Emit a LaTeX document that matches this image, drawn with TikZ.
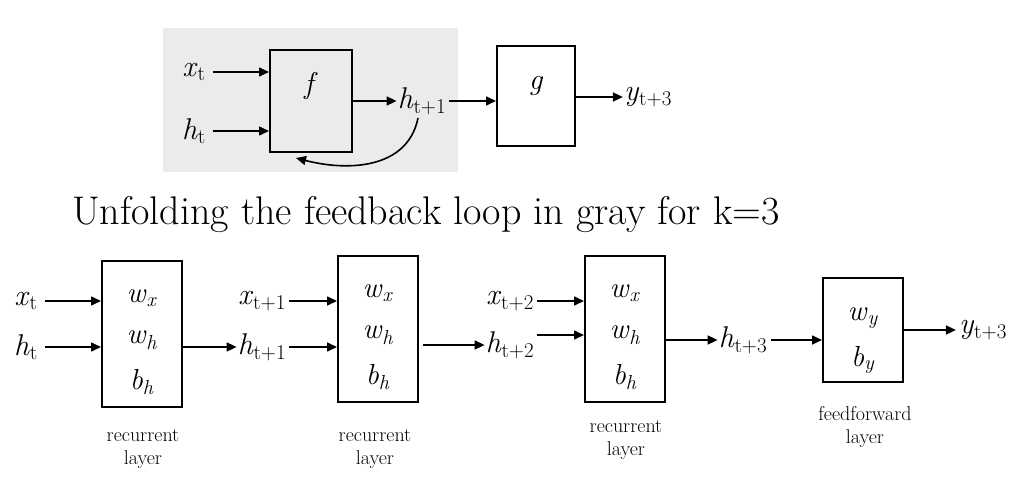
\documentclass[tikz,border=0pt]{standalone}
\usepackage{fontspec}
\usetikzlibrary{arrows.meta}
\definecolor{loopgray}{RGB}{235,235,235}
\newcommand{\vsub}[2]{\textit{#1}\textsubscript{#2}}
\tikzset{
  blk/.style={draw, line width=2pt, inner sep=0pt},
  lbl/.style={font=\fontsize{30}{34}\selectfont, inner sep=1pt},
  wlbl/.style={font=\fontsize{29}{33}\selectfont, inner sep=1pt},
  layercap/.style={font=\fontsize{20}{23}\selectfont, align=center},
  sig/.style={-{Triangle[length=10pt,width=9pt]}, line width=1.6pt},
}
\begin{document}
\begin{tikzpicture}[x=1pt,y=-1pt]
\useasboundingbox (0,0) rectangle (1024,484);

% feedback part, gray background
\fill [loopgray] (163,28) rectangle (458,172);

\node [blk, minimum width=82pt, minimum height=102pt] (f) at (311,101) {};
\node [lbl] (fl) at (311,86) {\textit{f}};
\node [blk, minimum width=78pt, minimum height=100pt] (g) at (536,96) {};
\node [lbl] (gl) at (536,86) {\textit{g}};

\node [lbl] (xt0) at (194,72) {\vsub{x}{t}};
\node [lbl] (ht0) at (194,131) {\vsub{h}{t}};
\node [lbl] (htop) at (422,101) {\vsub{h}{t+1}};
\node [lbl] (ytop) at (648,97) {\vsub{y}{t+3}};
\coordinate (fb) at (296,158);

\draw [sig, shorten <=6pt] (xt0) -- (xt0 -| f.west);
\draw [sig, shorten <=6pt] (ht0) -- (ht0 -| f.west);
\draw [sig] (f.east |- htop) -- (htop);
\draw [sig, shorten <=2pt] (htop) -- (htop -| g.west);
\draw [sig] (g.east |- ytop) -- (ytop);
\draw [sig] ([xshift=-4pt,yshift=-2pt]htop.south) .. controls (408,168) and (350,172) .. (fb);

% title
\node [font=\fontsize{40}{44}\selectfont] (title) at (426,215) {Unfolding the feedback loop in gray for k=3};

% unfolded network
\node [blk, minimum width=80pt, minimum height=146pt] (r1) at (142,334) {};
\node [blk, minimum width=80pt, minimum height=146pt] (r2) at (378,329) {};
\node [blk, minimum width=80pt, minimum height=146pt] (r3) at (625,329) {};
\node [blk, minimum width=80pt, minimum height=104pt] (ff) at (863,330) {};

\foreach \n in {r1,r2,r3} {
  \node [wlbl] (\n-wx) at ([yshift=36pt]\n.center) {\vsub{w}{\textit{x}}};
  \node [wlbl] (\n-wh) at ([yshift=-6pt]\n.center) {\vsub{w}{\textit{h}}};
  \node [wlbl] (\n-bh) at ([yshift=-48pt]\n.center) {\vsub{b}{\textit{h}}};
}
\node [wlbl] (ff-wy) at (863,318) {\vsub{w}{\textit{y}}};
\node [wlbl] (ff-by) at (863,360) {\vsub{b}{\textit{y}}};

\node [lbl] (x1) at (26,301) {\vsub{x}{t}};
\node [lbl] (h1) at (26,347) {\vsub{h}{t}};
\node [lbl] (x2) at (262,301) {\vsub{x}{t+1}};
\node [lbl] (h2) at (262,347) {\vsub{h}{t+1}};
\node [lbl] (x3) at (510,301) {\vsub{x}{t+2}};
\node [lbl] (h3) at (510,345) {\vsub{h}{t+2}};
\node [lbl] (h4) at (743,340) {\vsub{h}{t+3}};
\node [lbl] (y4) at (983,330) {\vsub{y}{t+3}};

\draw [sig, shorten <=6pt] (x1) -- (x1 -| r1.west);
\draw [sig, shorten <=6pt] (h1) -- (h1 -| r1.west);
\draw [sig] (r1.east |- h2) -- (h2);
\draw [sig, shorten <=2pt] (x2) -- (x2 -| r2.west);
\draw [sig, shorten <=2pt] (h2) -- (h2 -| r2.west);
\draw [sig, shorten <=4pt] (r2.east |- h3) -- (h3);
\draw [sig, shorten <=2pt] (x3) -- (x3 -| r3.west);
\draw [sig, shorten <=2pt] (h3.east |- r3-wh) -- (r3.west |- r3-wh);
\draw [sig] (r3.east |- h4) -- (h4);
\draw [sig, shorten <=3pt] (h4) -- (h4 -| ff.west);
\draw [sig, shorten >=2pt] (ff.east |- y4) -- (y4);

\node [layercap] (c1) at (143,449) {recurrent\\layer};
\node [layercap] (c2) at (375,449) {recurrent\\layer};
\node [layercap] (c3) at (626,440) {recurrent\\layer};
\node [layercap] (c4) at (865,427) {feedforward\\layer};
\end{tikzpicture}
\end{document}
